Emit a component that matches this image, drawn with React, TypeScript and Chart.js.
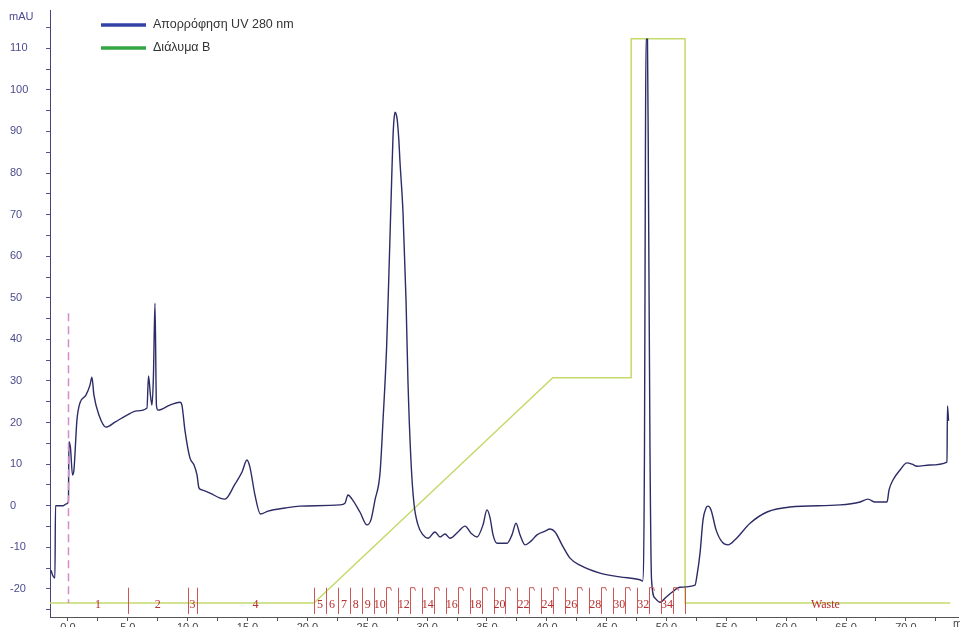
import { useEffect, useRef } from 'react';
import { Chart, registerables } from 'chart.js';
Chart.register(...registerables);

// UV 280 nm absorbance trace (time in min, absorbance in mAU)
const uvTime = [
  -1.42, -1.25, -1.09, -1.04, -0.42, -0.17, 0.04, 0.08, 0.21, 0.38,
  0.5, 0.75, 1.0, 1.5, 1.84, 2.0, 2.17, 2.59, 3.17, 3.93,
  4.93, 5.76, 6.6, 6.73, 6.89, 7.02, 7.14, 7.27, 7.39, 7.52,
  8.52, 9.36, 9.52, 9.77, 10.19, 10.53, 10.78, 10.94, 11.19, 11.86,
  12.7, 13.12, 13.95, 14.54, 14.95, 15.2, 15.62, 16.08, 16.71, 18.13,
  19.38, 22.72, 23.14, 23.39, 23.73, 24.39, 24.98, 25.31, 25.65, 26.07,
  26.32, 26.62, 26.82, 27.04, 27.15, 27.23, 27.32, 27.44, 27.52, 27.65, 27.73, 27.99, 28.24,
  28.4, 28.65, 28.9, 29.24, 29.66, 30.08, 30.66, 31.08, 31.5, 31.91,
  32.58, 33.17, 33.67, 34.17, 34.67, 35.0, 35.26, 35.51, 35.84, 36.68,
  37.09, 37.43, 37.76, 38.18, 38.68, 39.18, 39.85, 40.27, 40.69, 41.27,
  41.94, 42.77, 44.44, 46.11, 47.78, 48.0, 48.16, 48.24, 48.29, 48.41,
  48.5, 48.62, 48.75, 49.04, 49.46, 49.96, 50.46, 51.13, 52.38, 52.55,
  52.8, 53.05, 53.3, 53.47, 53.72, 54.14, 54.64, 55.14, 55.72, 56.98,
  58.4, 60.32, 64.49, 66.17, 66.83, 67.42, 68.42, 68.59, 68.92, 69.51,
  70.09, 70.51, 70.93, 72.01, 73.43, 73.47, 73.56,
];
const uvValue = [
  -15.5, -16.9, -17.4, 0, 0, 0.4, 1.0, 15.4, 13.9, 7.4,
  8.6, 20.6, 24.7, 26.6, 29.0, 30.9, 26.6, 21.8, 18.9, 20.1,
  21.8, 22.8, 23.5, 31.2, 26.6, 24.2, 31.2, 48.7, 24.2, 23.0,
  24.2, 24.9, 24.2, 18.2, 11.5, 9.8, 7.4, 4.3, 3.8, 3.05,
  1.85, 1.6, 5.2, 8.1, 11.0, 9.3, 2.6, -2.0, -1.3, -0.55,
  -0.1, 0.2, 0.6, 2.6, 1.6, -1.5, -4.6, -3.4, 1.4, 7.9,
  20.6, 38.2, 56.7, 78.3, 88.5, 92.7, 94.6, 93.9, 92.4, 87.5, 83.0, 70.4, 49.5,
  30.2, 11.0, 0.65, -4.6, -7.0, -7.8, -6.3, -7.5, -6.8, -7.8,
  -6.3, -4.9, -6.6, -7.5, -4.6, -1.0, -2.9, -7.0, -9.0, -9.0,
  -7.0, -4.2, -7.0, -9.4, -8.5, -7.0, -6.1, -5.6, -6.3, -9.4,
  -12.6, -14.3, -16.2, -17.1, -17.8, -18.1, 13.4, 85.5, 112.2, 112.2,
  73.4, 13.4, -17.8, -22.2, -23.2, -22.0, -20.8, -19.6, -19.1, -16.7,
  -11.4, -3.4, -0.55, -0.1, -1.0, -5.8, -8.7, -9.4, -8.2, -4.2,
  -1.5, -0.3, 0.2, 0.9, 1.6, 0.9, 0.9, 3.8, 6.2, 8.6,
  10.3, 10.0, 9.5, 9.8, 10.5, 24.0, 20.4,
];

// Solution B gradient trace (drawn on the mAU scale as in the original)
const solBTime = [-1.5, 20.55, 40.5, 47.05, 47.05, 51.55, 51.55, 73.7];
const solBValue = [-23.4, -23.4, 30.8, 30.8, 112.3, 112.3, -23.4, -23.4];

// Fraction collector marks (min)
const fractionMarks = [
  0, 5.0, 10.0, 10.8,
  20.55, 21.55, 22.55, 23.55, 24.55, 25.55, 26.55, 27.55, 28.55, 29.55,
  30.55, 31.55, 32.55, 33.55, 34.55, 35.55, 36.55, 37.55, 38.55, 39.55,
  40.55, 41.55, 42.55, 43.55, 44.55, 45.55, 46.55, 47.55, 48.55, 49.55,
  50.55, 51.55, 75.0,
];
const hookMarks = [26.55, 28.55, 30.55, 32.55, 34.55, 36.55, 38.55, 40.55, 42.55, 44.55, 46.55, 48.55, 50.55];
const fractionLabels = [
  '1', '2', '3', '4', '5', '6', '7', '8', '9', '10', '', '12', '', '14', '', '16', '', '18',
  '', '20', '', '22', '', '24', '', '26', '', '28', '', '30', '', '32', '', '34', '', 'Waste',
];

const legendNames = ['Απορρόφηση UV 280 nm', 'Διάλυμα B'];
const legendColors = ['#3442a6', '#33a544'];

const SANS = '"Liberation Sans", Arial, sans-serif';
const SERIF = '"Liberation Serif", "Times New Roman", serif';

const overlayPlugin = {
  id: 'overlay',
  afterDatasetsDraw(chart: any) {
    const { ctx, scales } = chart;
    const xs = scales.x;
    const ys = scales.y;
    ctx.save();
    // first injection mark (dashed)
    const x0 = Math.round(xs.getPixelForValue(fractionMarks[0])) + 0.5;
    ctx.strokeStyle = '#d68cc6';
    ctx.lineWidth = 1.5;
    ctx.setLineDash([8, 5]);
    ctx.beginPath();
    ctx.moveTo(x0, ys.getPixelForValue(46.3));
    ctx.lineTo(x0, ys.getPixelForValue(-23.4));
    ctx.stroke();
    ctx.setLineDash([]);
    // other marks
    ctx.strokeStyle = '#cc5555';
    ctx.lineWidth = 1;
    const top = ys.getPixelForValue(-19.7);
    const bot = ys.getPixelForValue(-26.0);
    for (let i = 1; i < fractionMarks.length - 1; i++) {
      const m = fractionMarks[i];
      const x = Math.round(xs.getPixelForValue(m)) + 0.5;
      ctx.beginPath();
      ctx.moveTo(x, bot);
      ctx.lineTo(x, top);
      if (hookMarks.includes(m)) {
        ctx.lineTo(x + 4, top);
        ctx.lineTo(x + 5, top + 3);
      }
      ctx.stroke();
    }
    // labels
    ctx.fillStyle = '#b52f2f';
    ctx.font = `12px ${SERIF}`;
    ctx.textAlign = 'center';
    ctx.textBaseline = 'middle';
    const ly = ys.getPixelForValue(-23.9);
    for (let i = 0; i < fractionLabels.length; i++) {
      const lab = fractionLabels[i];
      if (!lab) continue;
      const c = (fractionMarks[i] + fractionMarks[i + 1]) / 2;
      ctx.fillText(lab, xs.getPixelForValue(c), ly);
    }
    ctx.restore();
  },
  afterDraw(chart: any) {
    const { ctx } = chart;
    ctx.save();
    // unit label
    ctx.fillStyle = '#4b4b8e';
    ctx.font = `11px ${SANS}`;
    ctx.textAlign = 'left';
    ctx.textBaseline = 'middle';
    ctx.fillText('mAU', 9, 17);
    // x unit, cut at the edge
    ctx.fillStyle = '#444';
    ctx.fillText('min', 953, 624);
    // legend
    const rows = [25, 48];
    for (let i = 0; i < legendNames.length; i++) {
      ctx.strokeStyle = legendColors[i];
      ctx.lineWidth = 3.5;
      ctx.beginPath();
      ctx.moveTo(101, rows[i]);
      ctx.lineTo(146, rows[i]);
      ctx.stroke();
      ctx.fillStyle = '#333';
      ctx.font = `12.5px ${SANS}`;
      ctx.fillText(legendNames[i], 153, rows[i]);
    }
    ctx.restore();
  },
};

export default function App() {
  const ref = useRef<HTMLCanvasElement>(null);
  useEffect(() => {
    document.body.style.margin = '0';
    const uvData = uvTime.map((t, i) => ({ x: t, y: uvValue[i] }));
    const bData = solBTime.map((t, i) => ({ x: t, y: solBValue[i] }));
    const chart = new Chart(ref.current!, {
      type: 'line',
      data: {
        datasets: [
          {
            label: legendNames[0],
            data: uvData,
            borderColor: '#2c2c66',
            borderWidth: 1.4,
            pointRadius: 0,
            cubicInterpolationMode: 'monotone',
          },
          {
            label: legendNames[1],
            data: bData,
            borderColor: '#c5da6c',
            borderWidth: 1.5,
            pointRadius: 0,
            tension: 0,
          },
        ],
      },
      options: {
        animation: false,
        responsive: false,
        events: [],
        layout: { padding: { top: 10, left: 10, right: 2, bottom: 0 } },
        plugins: { legend: { display: false }, tooltip: { enabled: false } },
        scales: {
          x: {
            type: 'linear',
            min: -1.5,
            max: 74.35,
            afterFit: (s: any) => { s.height = 10; },
            border: { display: true, color: '#555', width: 1 },
            grid: { display: true, drawOnChartArea: false, drawTicks: true, tickLength: 4, color: '#555' },
            ticks: {
              stepSize: 2.5,
              includeBounds: false,
              autoSkip: false,
              maxRotation: 0,
              padding: 0,
              color: '#444',
              font: { family: SANS, size: 11 },
              callback: (v: any) => (Math.abs(v % 5) < 1e-6 ? Number(v).toFixed(1) : ''),
            },
          },
          y: {
            type: 'linear',
            min: -26.75,
            max: 119.2,
            afterFit: (s: any) => { s.width = 40; },
            border: { display: true, color: '#45457c', width: 1 },
            grid: { display: true, drawOnChartArea: false, drawTicks: true, tickLength: 4, color: '#55558a' },
            ticks: {
              stepSize: 5,
              includeBounds: false,
              autoSkip: false,
              crossAlign: 'far',
              color: '#4b4b8e',
              font: { family: SANS, size: 11 },
              callback: (v: any) => (Math.abs(v % 10) < 1e-6 ? String(v) : ''),
            },
          },
        },
      },
      plugins: [overlayPlugin],
    } as any);
    return () => chart.destroy();
  }, []);
  return (
    <div style={{ width: 960, height: 627 }}>
      <canvas ref={ref} width={960} height={627} />
    </div>
  );
}
